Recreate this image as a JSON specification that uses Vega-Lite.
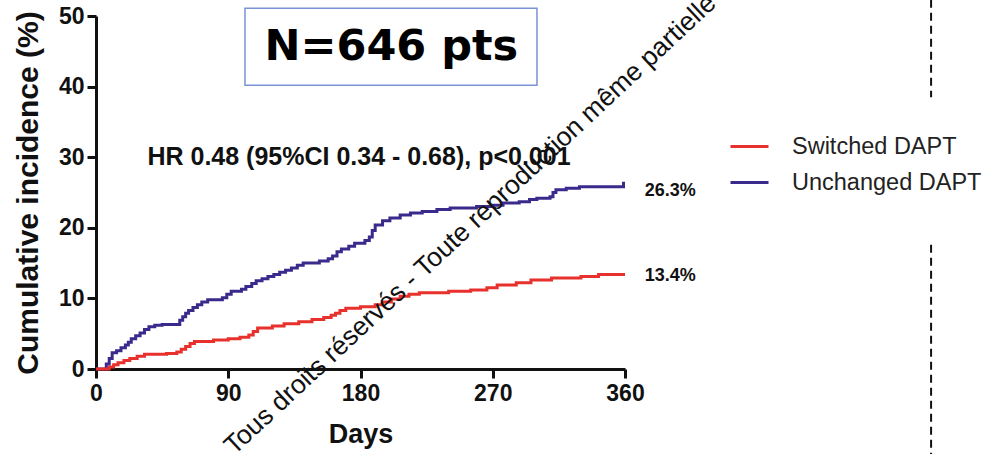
{
  "$schema": "https://vega.github.io/schema/vega-lite/v6.json",
  "width": 529,
  "height": 353,
  "autosize": {"type": "none"},
  "padding": {"left": 96, "top": 16, "right": 365, "bottom": 85},
  "background": "white",
  "config": {"view": {"stroke": null}, "font": "Liberation Sans"},
  "datasets": {
    "km": [
      {"group": "Unchanged DAPT", "day": 0, "pct": 0},
      {"group": "Unchanged DAPT", "day": 6, "pct": 0},
      {"group": "Unchanged DAPT", "day": 7, "pct": 0.7},
      {"group": "Unchanged DAPT", "day": 9, "pct": 1.5},
      {"group": "Unchanged DAPT", "day": 11, "pct": 2.3},
      {"group": "Unchanged DAPT", "day": 14, "pct": 2.6},
      {"group": "Unchanged DAPT", "day": 17, "pct": 3.0},
      {"group": "Unchanged DAPT", "day": 20, "pct": 3.4},
      {"group": "Unchanged DAPT", "day": 22, "pct": 3.8},
      {"group": "Unchanged DAPT", "day": 24, "pct": 4.3},
      {"group": "Unchanged DAPT", "day": 27, "pct": 4.7},
      {"group": "Unchanged DAPT", "day": 30, "pct": 5.1},
      {"group": "Unchanged DAPT", "day": 33, "pct": 5.6},
      {"group": "Unchanged DAPT", "day": 36, "pct": 6.0},
      {"group": "Unchanged DAPT", "day": 40, "pct": 6.2},
      {"group": "Unchanged DAPT", "day": 45, "pct": 6.3},
      {"group": "Unchanged DAPT", "day": 57, "pct": 6.9},
      {"group": "Unchanged DAPT", "day": 59, "pct": 7.4},
      {"group": "Unchanged DAPT", "day": 61, "pct": 7.9},
      {"group": "Unchanged DAPT", "day": 63, "pct": 8.3},
      {"group": "Unchanged DAPT", "day": 66, "pct": 8.7},
      {"group": "Unchanged DAPT", "day": 69, "pct": 9.1},
      {"group": "Unchanged DAPT", "day": 72, "pct": 9.5},
      {"group": "Unchanged DAPT", "day": 76, "pct": 9.8},
      {"group": "Unchanged DAPT", "day": 86, "pct": 10.1},
      {"group": "Unchanged DAPT", "day": 89, "pct": 10.6},
      {"group": "Unchanged DAPT", "day": 92, "pct": 11.0},
      {"group": "Unchanged DAPT", "day": 99, "pct": 11.3},
      {"group": "Unchanged DAPT", "day": 102, "pct": 11.7},
      {"group": "Unchanged DAPT", "day": 106, "pct": 12.1},
      {"group": "Unchanged DAPT", "day": 109, "pct": 12.5},
      {"group": "Unchanged DAPT", "day": 113, "pct": 12.8},
      {"group": "Unchanged DAPT", "day": 117, "pct": 13.1},
      {"group": "Unchanged DAPT", "day": 121, "pct": 13.4},
      {"group": "Unchanged DAPT", "day": 125, "pct": 13.7},
      {"group": "Unchanged DAPT", "day": 129, "pct": 14.0},
      {"group": "Unchanged DAPT", "day": 133, "pct": 14.3},
      {"group": "Unchanged DAPT", "day": 137, "pct": 14.7},
      {"group": "Unchanged DAPT", "day": 141, "pct": 15.0},
      {"group": "Unchanged DAPT", "day": 152, "pct": 15.3},
      {"group": "Unchanged DAPT", "day": 158, "pct": 15.6},
      {"group": "Unchanged DAPT", "day": 161, "pct": 16.0},
      {"group": "Unchanged DAPT", "day": 164, "pct": 16.6},
      {"group": "Unchanged DAPT", "day": 167, "pct": 17.0},
      {"group": "Unchanged DAPT", "day": 172, "pct": 17.4},
      {"group": "Unchanged DAPT", "day": 176, "pct": 17.8},
      {"group": "Unchanged DAPT", "day": 183, "pct": 18.2},
      {"group": "Unchanged DAPT", "day": 186, "pct": 18.7},
      {"group": "Unchanged DAPT", "day": 188, "pct": 19.6},
      {"group": "Unchanged DAPT", "day": 190, "pct": 20.4},
      {"group": "Unchanged DAPT", "day": 195, "pct": 21.0},
      {"group": "Unchanged DAPT", "day": 200, "pct": 21.4},
      {"group": "Unchanged DAPT", "day": 207, "pct": 21.8},
      {"group": "Unchanged DAPT", "day": 214, "pct": 22.1},
      {"group": "Unchanged DAPT", "day": 222, "pct": 22.3},
      {"group": "Unchanged DAPT", "day": 232, "pct": 22.6},
      {"group": "Unchanged DAPT", "day": 241, "pct": 22.8},
      {"group": "Unchanged DAPT", "day": 259, "pct": 23.0},
      {"group": "Unchanged DAPT", "day": 270, "pct": 23.2},
      {"group": "Unchanged DAPT", "day": 277, "pct": 23.5},
      {"group": "Unchanged DAPT", "day": 288, "pct": 23.7},
      {"group": "Unchanged DAPT", "day": 295, "pct": 24.0},
      {"group": "Unchanged DAPT", "day": 300, "pct": 24.2},
      {"group": "Unchanged DAPT", "day": 309, "pct": 24.4},
      {"group": "Unchanged DAPT", "day": 311, "pct": 25.0},
      {"group": "Unchanged DAPT", "day": 313, "pct": 25.4},
      {"group": "Unchanged DAPT", "day": 320, "pct": 25.6},
      {"group": "Unchanged DAPT", "day": 329, "pct": 25.8},
      {"group": "Unchanged DAPT", "day": 359, "pct": 26.3},
      {"group": "Unchanged DAPT", "day": 360, "pct": 26.3},
      {"group": "Switched DAPT", "day": 0, "pct": 0},
      {"group": "Switched DAPT", "day": 7, "pct": 0},
      {"group": "Switched DAPT", "day": 9, "pct": 0.3},
      {"group": "Switched DAPT", "day": 12, "pct": 0.6},
      {"group": "Switched DAPT", "day": 15, "pct": 0.9},
      {"group": "Switched DAPT", "day": 19, "pct": 1.2},
      {"group": "Switched DAPT", "day": 23, "pct": 1.5},
      {"group": "Switched DAPT", "day": 28, "pct": 1.8},
      {"group": "Switched DAPT", "day": 33, "pct": 2.1},
      {"group": "Switched DAPT", "day": 48, "pct": 2.2},
      {"group": "Switched DAPT", "day": 55, "pct": 2.4},
      {"group": "Switched DAPT", "day": 58, "pct": 2.8},
      {"group": "Switched DAPT", "day": 61, "pct": 3.2},
      {"group": "Switched DAPT", "day": 64, "pct": 3.6},
      {"group": "Switched DAPT", "day": 67, "pct": 3.9},
      {"group": "Switched DAPT", "day": 80, "pct": 4.1},
      {"group": "Switched DAPT", "day": 90, "pct": 4.3},
      {"group": "Switched DAPT", "day": 98, "pct": 4.5},
      {"group": "Switched DAPT", "day": 104, "pct": 4.8},
      {"group": "Switched DAPT", "day": 107, "pct": 5.3},
      {"group": "Switched DAPT", "day": 110, "pct": 5.8},
      {"group": "Switched DAPT", "day": 120, "pct": 6.1},
      {"group": "Switched DAPT", "day": 128, "pct": 6.4},
      {"group": "Switched DAPT", "day": 138, "pct": 6.7},
      {"group": "Switched DAPT", "day": 147, "pct": 7.0},
      {"group": "Switched DAPT", "day": 155, "pct": 7.3},
      {"group": "Switched DAPT", "day": 160, "pct": 7.6},
      {"group": "Switched DAPT", "day": 163, "pct": 7.9},
      {"group": "Switched DAPT", "day": 166, "pct": 8.3},
      {"group": "Switched DAPT", "day": 170, "pct": 8.6},
      {"group": "Switched DAPT", "day": 180, "pct": 8.8},
      {"group": "Switched DAPT", "day": 190, "pct": 9.1},
      {"group": "Switched DAPT", "day": 195, "pct": 9.5},
      {"group": "Switched DAPT", "day": 201, "pct": 9.9},
      {"group": "Switched DAPT", "day": 207, "pct": 10.3},
      {"group": "Switched DAPT", "day": 213, "pct": 10.6},
      {"group": "Switched DAPT", "day": 220, "pct": 10.8},
      {"group": "Switched DAPT", "day": 240, "pct": 11.0},
      {"group": "Switched DAPT", "day": 255, "pct": 11.2},
      {"group": "Switched DAPT", "day": 266, "pct": 11.5},
      {"group": "Switched DAPT", "day": 273, "pct": 11.9},
      {"group": "Switched DAPT", "day": 286, "pct": 12.2},
      {"group": "Switched DAPT", "day": 296, "pct": 12.6},
      {"group": "Switched DAPT", "day": 310, "pct": 12.9},
      {"group": "Switched DAPT", "day": 330, "pct": 13.1},
      {"group": "Switched DAPT", "day": 342, "pct": 13.4},
      {"group": "Switched DAPT", "day": 360, "pct": 13.4}
    ]
  },
  "layer": [
    {
      "data": {"name": "km"},
      "mark": {"type": "line", "interpolate": "step-after", "strokeWidth": 3, "clip": false},
      "encoding": {
        "x": {
          "field": "day", "type": "quantitative",
          "scale": {"domain": [0, 360], "nice": false, "zero": false},
          "axis": {
            "values": [0, 90, 180, 270, 360], "title": "Days", "grid": false,
            "titleFontSize": 27, "titleFontWeight": "bold", "titleColor": "#111", "titlePadding": 16,
            "labelFontSize": 23, "labelFontWeight": "bold", "labelColor": "#111", "labelPadding": 4,
            "domainColor": "#111", "domainWidth": 3, "tickColor": "#111", "tickWidth": 3, "tickSize": 9,
            "labelFlush": false
          }
        },
        "y": {
          "field": "pct", "type": "quantitative",
          "scale": {"domain": [0, 50], "nice": false},
          "axis": {
            "values": [0, 10, 20, 30, 40, 50], "title": "Cumulative incidence (%)", "grid": false,
            "titleFontSize": 30, "titleFontWeight": "bold", "titleColor": "#111", "titlePadding": 15,
            "labelFontSize": 23, "labelFontWeight": "bold", "labelColor": "#111", "labelPadding": 3,
            "domainColor": "#111", "domainWidth": 3, "tickColor": "#111", "tickWidth": 3, "tickSize": 9,
            "labelFlush": false
          }
        },
        "color": {
          "field": "group", "type": "nominal",
          "scale": {"domain": ["Switched DAPT", "Unchanged DAPT"], "range": ["#e8302c", "#3a2a8c"]},
          "legend": {
            "orient": "none", "legendX": 633, "legendY": 110, "title": null,
            "symbolType": "stroke", "symbolSize": 1444, "symbolStrokeWidth": 3,
            "labelFontSize": 23.5, "labelColor": "#222", "labelOffset": 22, "labelLimit": 0,
            "rowPadding": 4, "padding": 0
          }
        }
      }
    },
    {
      "data": {"values": [{"day": 35, "pct": 30, "label": "HR 0.48 (95%CI 0.34 - 0.68), p<0.001"}]},
      "mark": {"type": "text", "align": "left", "baseline": "middle", "fontSize": 25, "fontWeight": "bold", "color": "#111"},
      "encoding": {
        "x": {"field": "day", "type": "quantitative"},
        "y": {"field": "pct", "type": "quantitative"},
        "text": {"field": "label"}
      }
    },
    {
      "data": {"values": [{"day": 373.5, "pct": 25.2, "label": "26.3%"}, {"day": 373.5, "pct": 13.2, "label": "13.4%"}]},
      "mark": {"type": "text", "align": "left", "baseline": "middle", "fontSize": 18, "fontWeight": "bold", "color": "#111"},
      "encoding": {
        "x": {"field": "day", "type": "quantitative"},
        "y": {"field": "pct", "type": "quantitative"},
        "text": {"field": "label"}
      }
    },
    {
      "data": {"values": [{"day": 101.4, "day2": 300.1, "pct": 51.1, "pct2": 40.2}]},
      "mark": {"type": "rect", "fill": "white", "stroke": "#7a93d8", "strokeWidth": 1.5},
      "encoding": {
        "x": {"field": "day", "type": "quantitative"},
        "x2": {"field": "day2"},
        "y": {"field": "pct", "type": "quantitative"},
        "y2": {"field": "pct2"}
      }
    },
    {
      "data": {"values": [{"day": 201, "pct": 45.6, "label": "N=646 pts"}]},
      "mark": {"type": "text", "align": "center", "baseline": "middle", "font": "DejaVu Sans", "fontSize": 43, "fontWeight": "bold", "color": "#000"},
      "encoding": {
        "x": {"field": "day", "type": "quantitative"},
        "y": {"field": "pct", "type": "quantitative"},
        "text": {"field": "label"}
      }
    },
    {
      "data": {"values": [{"day": 568.3, "pct": 52.3, "pct2": 38.5}, {"day": 568.3, "pct": 17.6, "pct2": -12.1}]},
      "mark": {"type": "rule", "color": "#111", "strokeWidth": 2, "strokeDash": [8, 5]},
      "encoding": {
        "x": {"field": "day", "type": "quantitative"},
        "y": {"field": "pct", "type": "quantitative"},
        "y2": {"field": "pct2"}
      }
    },
    {
      "data": {"values": [{"day": 94, "pct": -12.3, "label": "Tous droits réservés - Toute reproduction même partielle"}]},
      "mark": {"type": "text", "align": "left", "baseline": "alphabetic", "angle": -43, "fontSize": 26.5, "color": "#111"},
      "encoding": {
        "x": {"field": "day", "type": "quantitative"},
        "y": {"field": "pct", "type": "quantitative"},
        "text": {"field": "label"}
      }
    }
  ]
}
